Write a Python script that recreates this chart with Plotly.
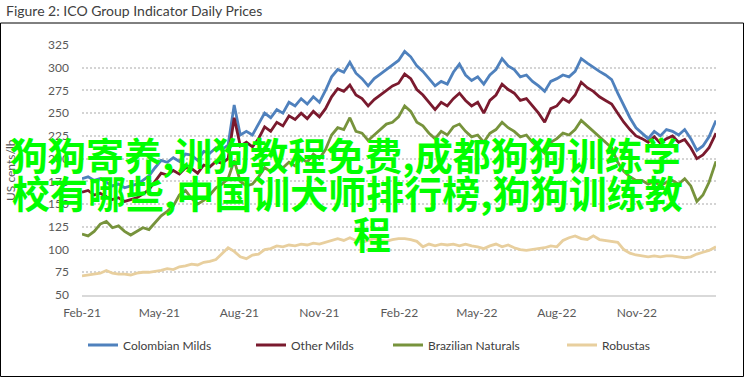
import plotly.graph_objects as go

# ---------------- data ----------------
dates = [
    "2021-02-01", "2021-02-08", "2021-02-15", "2021-02-22",
    "2021-03-01", "2021-03-08", "2021-03-15", "2021-03-22", "2021-03-29",
    "2021-04-05", "2021-04-12", "2021-04-19", "2021-04-26",
    "2021-05-03", "2021-05-10", "2021-05-17", "2021-05-24", "2021-05-31",
    "2021-06-07", "2021-06-14", "2021-06-21", "2021-06-28",
    "2021-07-05", "2021-07-12", "2021-07-19", "2021-07-26",
    "2021-08-02", "2021-08-09", "2021-08-16", "2021-08-23", "2021-08-30",
    "2021-09-06", "2021-09-13", "2021-09-20", "2021-09-27",
    "2021-10-04", "2021-10-11", "2021-10-18", "2021-10-25",
    "2021-11-01", "2021-11-08", "2021-11-15", "2021-11-22", "2021-11-29",
    "2021-12-06", "2021-12-13", "2021-12-20", "2021-12-27",
    "2022-01-03", "2022-01-10", "2022-01-17", "2022-01-24", "2022-01-31",
    "2022-02-07", "2022-02-14", "2022-02-21", "2022-02-28",
    "2022-03-07", "2022-03-14", "2022-03-21", "2022-03-28",
    "2022-04-04", "2022-04-11", "2022-04-18", "2022-04-25",
    "2022-05-02", "2022-05-09", "2022-05-16", "2022-05-23", "2022-05-30",
    "2022-06-06", "2022-06-13", "2022-06-20", "2022-06-27",
    "2022-07-04", "2022-07-11", "2022-07-18", "2022-07-25",
    "2022-08-01", "2022-08-08", "2022-08-15", "2022-08-22", "2022-08-29",
    "2022-09-05", "2022-09-12", "2022-09-19", "2022-09-26",
    "2022-10-03", "2022-10-10", "2022-10-17", "2022-10-24", "2022-10-31",
    "2022-11-07", "2022-11-14", "2022-11-21", "2022-11-28",
    "2022-12-05", "2022-12-12", "2022-12-19", "2022-12-26",
    "2023-01-02", "2023-01-09", "2023-01-16", "2023-01-23", "2023-01-31",
]

colombian_milds = [
    178, 180, 176, 178,
    174, 170, 172, 168, 170,
    172, 176, 181, 190,
    198, 196, 201, 197, 205,
    204, 198, 208, 206,
    212, 210, 215, 259,
    226, 230, 226, 238, 250,
    245, 254, 250, 262,
    258, 266, 260, 268,
    262, 275, 290, 298, 295,
    306, 294, 288, 280,
    288, 293, 298, 302, 308,
    318, 312, 302, 296,
    288, 280, 285, 282,
    295, 304, 292, 286,
    290, 282, 292, 298, 310,
    302, 298, 290, 292,
    285, 280, 274, 285,
    288, 292, 290, 296, 310,
    305, 300, 296, 292,
    287, 272, 258, 245, 234,
    228, 222, 230, 225,
    232, 230, 226, 232,
    222, 209, 214, 224, 242,
]

other_milds = [
    163, 165, 160, 162,
    158, 155, 157, 153, 155,
    157, 161, 166, 175,
    184, 182, 187, 183, 190,
    189, 184, 193, 191,
    197, 195, 200, 245,
    214, 218, 213, 222, 235,
    230, 240, 236, 247,
    243, 250, 244, 252,
    246, 255, 268, 277, 274,
    281, 270, 266, 258,
    265, 270, 276, 280, 283,
    293, 288, 276, 270,
    262, 254, 262, 258,
    266, 272, 264, 258,
    262, 250, 264, 270, 282,
    276, 272, 264, 266,
    258, 250, 240, 255,
    258, 266, 262, 270, 284,
    278, 274, 268, 264,
    260, 250, 240, 232, 225,
    222, 218, 224, 217,
    222, 225, 218, 221,
    212, 200, 204, 212, 228,
]

brazilian_naturals = [
    117, 115, 120, 128,
    131, 124, 126, 120, 116,
    120, 124, 122, 130,
    137, 142, 148, 160, 165,
    156, 150, 154, 160,
    168, 172, 178, 198,
    175, 170, 172, 180, 190,
    186, 194, 190, 196,
    192, 200, 196, 205,
    200, 210, 226, 234, 232,
    245, 230, 228, 220,
    226, 232, 238, 240, 246,
    258, 252, 240, 236,
    228, 222, 230, 226,
    235, 238, 230, 224,
    226, 218, 228, 232, 240,
    234, 230, 224, 226,
    218, 212, 206, 218,
    222, 228, 226, 232, 242,
    236, 230, 224, 218,
    212, 196, 186, 180, 176,
    176, 172, 175, 170,
    174, 176, 172, 178,
    170, 153, 160, 174, 197,
]

robustas = [
    71, 72, 73, 74,
    77, 74, 73, 73, 72,
    74, 75, 75, 76,
    77, 79, 78, 81, 82,
    84, 83, 86, 87,
    89, 95, 102, 98,
    92, 90, 94, 95, 100,
    101, 104, 103, 105,
    104, 106, 105, 107,
    106, 108, 110, 112, 110,
    113, 110, 108, 110,
    112, 110, 109, 111, 112,
    112, 111, 109, 103,
    106, 104, 106, 105,
    106, 104, 106, 104,
    103, 101, 104, 106, 103,
    105, 102, 100, 99,
    100, 101, 102, 104,
    103, 110, 113, 115, 112,
    111, 115, 111, 110,
    109, 108, 100, 96, 94,
    93, 92, 93, 92,
    93, 93, 92, 91,
    92, 95, 97, 99, 103,
]

series_names = ["Colombian Milds", "Other Milds", "Brazilian Naturals", "Robustas"]
series_values = [colombian_milds, other_milds, brazilian_naturals, robustas]

x_tick_vals = ["2021-02-01", "2021-05-01", "2021-08-01", "2021-11-01",
               "2022-02-01", "2022-05-01", "2022-08-01", "2022-11-01"]
x_tick_text = ["Feb-21", "May-21", "Aug-21", "Nov-21",
               "Feb-22", "May-22", "Aug-22", "Nov-22"]
y_tick_vals = [50, 75, 100, 125, 150, 175, 200, 225, 250, 275, 300, 325]

title_text = "Figure 2: ICO Group Indicator Daily Prices"
y_title_text = "US cents/lb"
overlay_lines = ["狗狗寄养,训狗教程免费,成都狗狗训练学",
                 "校有哪些,中国训犬师排行榜,狗狗训练教",
                 "程"]

# ---------------- styling ----------------
colors = ["#4F81BD", "#7A1A2E", "#77933C", "#E8CF9E"]
legend_widths = [123, 92, 129, 55]

W, H = 745, 378
L, R, T, B = 82, 29, 45, 83
PW, PH = W - L - R, H - T - B


def px_x(p):
    return (p - L) / PW


def px_y(p):
    return (H - B - p) / PH


FONT = "Lato, 'Open Sans', sans-serif"

fig = go.Figure()
for name, vals, col, lw in zip(series_names, series_values, colors, legend_widths):
    fig.add_trace(go.Scatter(
        x=dates, y=vals, mode="lines", name=name,
        line=dict(color=col, width=2.8),
        legendwidth=lw,
    ))

annotations = [
    dict(text=title_text, xref="paper", yref="paper",
         x=px_x(4), y=px_y(10), xanchor="left", yanchor="middle",
         showarrow=False, font=dict(family=FONT, size=14, color="#404040")),
    dict(text=y_title_text, xref="paper", yref="paper",
         x=px_x(10), y=px_y(170), xanchor="center", yanchor="middle",
         textangle=-90, showarrow=False,
         font=dict(family=FONT, size=12, color="#595959")),
]
overlay_pos = [(345, 153), (347, 191), (372, 232)]
for txt, (ox, oy) in zip(overlay_lines, overlay_pos):
    annotations.append(dict(
        text=txt, xref="paper", yref="paper", x=px_x(ox), y=px_y(oy),
        xanchor="center", yanchor="middle", showarrow=False,
        font=dict(family="Noto Sans CJK SC", size=38, color="#00FF00", weight="bold"),
    ))

fig.update_layout(
    width=W, height=H, autosize=False,
    margin=dict(l=L, r=R, t=T, b=B, pad=0),
    paper_bgcolor="white", plot_bgcolor="white",
    showlegend=True,
    legend=dict(orientation="h", x=px_x(83), xanchor="left",
                y=px_y(345), yanchor="middle",
                font=dict(family=FONT, size=12, color="#404040"),
                bgcolor="rgba(0,0,0,0)", tracegroupgap=0),
    annotations=annotations,
    shapes=[dict(type="rect", xref="paper", yref="paper",
                 x0=px_x(0.5), x1=px_x(743.5), y0=px_y(376.5), y1=px_y(23),
                 line=dict(color="black", width=1), fillcolor="rgba(0,0,0,0)")],
    xaxis=dict(type="date", range=["2021-02-01", "2023-01-31"],
               tickvals=x_tick_vals, ticktext=x_tick_text,
               showgrid=False, zeroline=False, showline=True,
               linecolor="#D9D9D9", linewidth=1.5, ticks="",
               tickfont=dict(family=FONT, size=12, color="#595959"),
               ticklabelstandoff=6),
    yaxis=dict(range=[50, 325], tickvals=y_tick_vals,
               showgrid=True, gridcolor="#D4D4D4", gridwidth=1.5,
               griddash="2px,2px", zeroline=False, showline=False, ticks="",
               tickfont=dict(family=FONT, size=12, color="#595959"),
               ticklabelstandoff=12),
)

fig.write_html(
    "out.html",
    config={"displayModeBar": False},
    post_script="document.body.style.margin='0';document.body.style.padding='0';",
)
